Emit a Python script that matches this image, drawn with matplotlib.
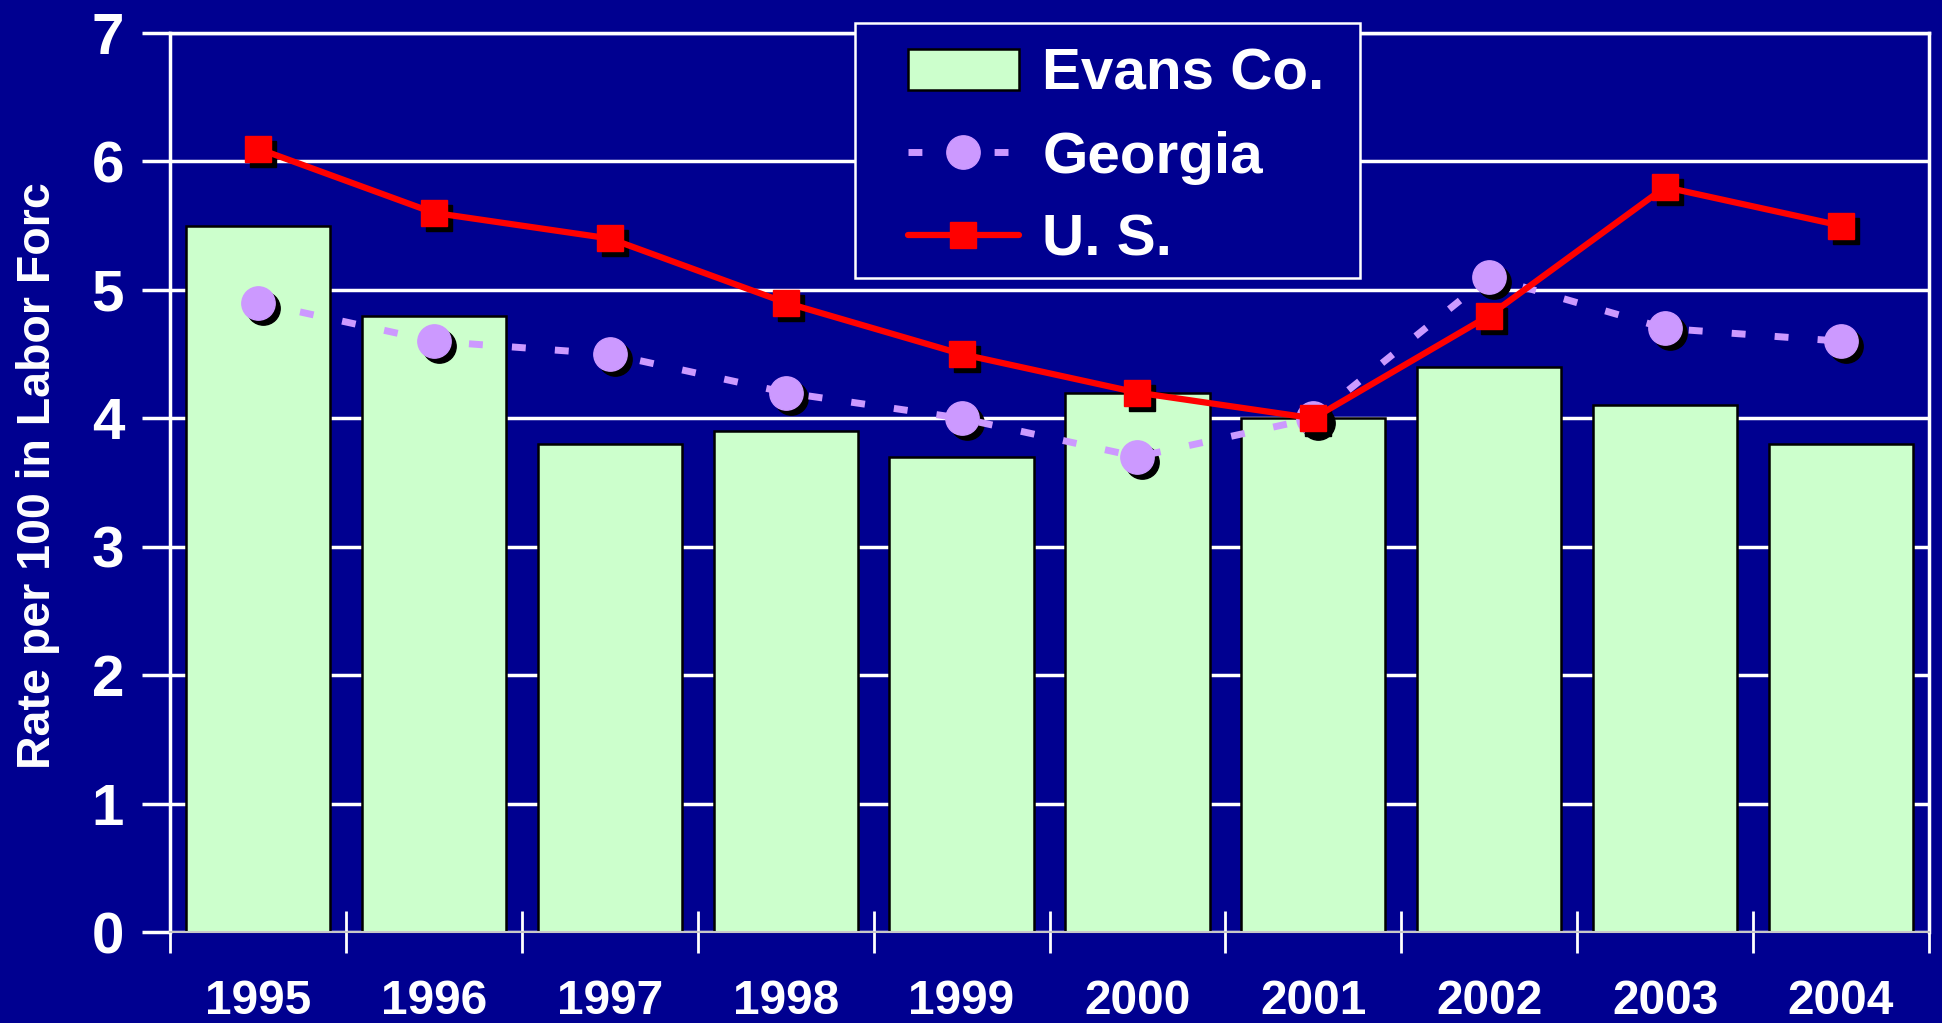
import numpy as np
import matplotlib
matplotlib.use('Agg')
import matplotlib.pyplot as plt
from matplotlib.patches import Rectangle
from matplotlib.transforms import ScaledTranslation

years = ['1995', '1996', '1997', '1998', '1999', '2000', '2001', '2002', '2003', '2004']
evans = [5.5, 4.8, 3.8, 3.9, 3.7, 4.2, 4.0, 4.4, 4.1, 3.8]
georgia = [4.9, 4.6, 4.5, 4.2, 4.0, 3.7, 4.0, 5.1, 4.7, 4.6]
us = [6.1, 5.6, 5.4, 4.9, 4.5, 4.2, 4.0, 4.8, 5.8, 5.5]
y_ticks = [0, 1, 2, 3, 4, 5, 6, 7]
series_labels = ['Evans Co.', 'Georgia', 'U. S.']
y_label = 'Rate per 100 in Labor Forc'

BG = '#000090'
BAR = '#CCFFCC'
GA = '#CC99FF'
RED = '#FF0000'

plt.rcParams['font.family'] = ['Liberation Sans', 'DejaVu Sans']
plt.rcParams['font.weight'] = 'bold'
plt.rcParams['lines.scale_dashes'] = False

W, H = 1942, 1023
fig = plt.figure(figsize=(W / 100, H / 100), dpi=100, facecolor=BG)
ax = fig.add_axes([170 / W, 1 - 932 / H, (1929 - 170) / W, (932 - 33) / H])
ax.set_facecolor(BG)

x = np.arange(len(years))
bars = ax.bar(x, evans, width=0.82, color=BAR, edgecolor='black', linewidth=1.8,
              zorder=2, label=series_labels[0])

shadow = ax.transData + ScaledTranslation(5 / 100, -5 / 100, fig.dpi_scale_trans)
ax.plot(x, georgia, ls='none', marker='o', ms=24, mfc='black', mec='black',
        transform=shadow, zorder=3)
ga_line, = ax.plot(x, georgia, color=GA, lw=5, dashes=(10, 21), marker='o', ms=24,
                   mfc=GA, mec=GA, zorder=4, label=series_labels[1])
ax.plot(x, us, ls='none', marker='s', ms=19, mfc='black', mec='black',
        transform=shadow, zorder=5)
us_line, = ax.plot(x, us, color=RED, lw=4.5, marker='s', ms=19, mfc=RED, mec=RED,
                   zorder=6, label=series_labels[2], solid_capstyle='round')

ax.set_xlim(-0.5, len(years) - 0.5)
ax.set_ylim(0, 7)
ax.set_yticks(y_ticks)
ax.set_yticklabels([str(v) for v in y_ticks], fontsize=42, color='white', weight='bold')
ax.set_xticks(x)
ax.set_xticklabels(years, fontsize=34.5, color='white', weight='bold')
ax.set_xticks(np.arange(-0.5, len(years), 1.0), minor=True)
ax.tick_params(axis='x', which='major', length=0, pad=34)
ax.tick_params(axis='x', which='minor', direction='inout', length=30, width=2, color='white')
ax.tick_params(axis='y', which='major', direction='out', length=20, width=2.5, color='white', pad=13)

ax.yaxis.grid(True, color='white', lw=2.5)
ax.set_axisbelow(True)
for side in ['left', 'right', 'top']:
    ax.spines[side].set_color('white')
    ax.spines[side].set_linewidth(2.5)
ax.spines['bottom'].set_color('#C8C8C8')
ax.spines['bottom'].set_linewidth(1.5)

fig.text(38 / W, 1 - 476 / H, y_label, rotation=90, ha='center', va='center',
         fontsize=33.5, color='white', weight='bold')

fig.add_artist(Rectangle((855 / W, 1 - 278 / H), 505 / W, 255 / H, transform=fig.transFigure,
                         facecolor=BG, edgecolor='white', lw=1.8, zorder=10))
leg = fig.legend([bars, ga_line, us_line], series_labels, loc='upper left',
                 bbox_to_anchor=(908 / W, 1 - 48 / H), frameon=False,
                 prop=dict(family=['Liberation Sans'], weight='bold', size=42),
                 handlelength=1.9, handleheight=0.72, handletextpad=0.4,
                 labelspacing=0.49, borderpad=0, borderaxespad=0, labelcolor='white')
leg.set_zorder(11)

fig.savefig('out.png', dpi=100, facecolor=BG)
